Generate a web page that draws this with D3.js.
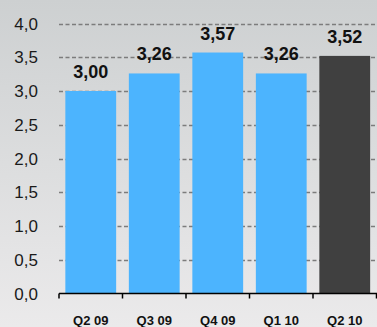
<!DOCTYPE html>
<html>
<head>
<meta charset="utf-8">
<script src="https://cdn.jsdelivr.net/npm/d3@7"></script>
<style>
  html, body { margin: 0; padding: 0; }
  svg { display: block; }
</style>
</head>
<body>
<svg id="chart" width="377" height="327"></svg>
<script>
// Quarterly values
const categories = ["Q2 09", "Q3 09", "Q4 09", "Q1 10", "Q2 10"];
const values = [3.00, 3.26, 3.57, 3.26, 3.52];
const yTicks = [0, 0.5, 1.0, 1.5, 2.0, 2.5, 3.0, 3.5, 4.0];

const W = 377, H = 327;
const margin = { left: 59, right: 0.5, top: 23.5, bottom: 33.5 };
const svg = d3.select("#chart");

// Background gradient
const defs = svg.append("defs");
const grad = defs.append("linearGradient").attr("id", "bg").attr("x1", 0).attr("y1", 0).attr("x2", 0).attr("y2", 1);
grad.append("stop").attr("offset", "0%").attr("stop-color", "#cdd0d1");
grad.append("stop").attr("offset", "100%").attr("stop-color", "#ebeaeb");
svg.append("rect").attr("width", W).attr("height", H).attr("fill", "url(#bg)");

const x = d3.scaleBand().domain(categories)
  .range([margin.left, W - margin.right]).paddingInner(0.2).paddingOuter(0.1);
const y = d3.scaleLinear().domain([0, 4]).range([H - margin.bottom, margin.top]);

const fmt = d => d3.format(".1f")(d).replace(".", ",");
const fmt2 = d => d3.format(".2f")(d).replace(".", ",");

// Dashed gridlines
svg.append("g").selectAll("line")
  .data(yTicks.filter(t => t > 0))
  .join("line")
  .attr("x1", margin.left).attr("x2", W)
  .attr("y1", d => Math.round(y(d)) + 0.5).attr("y2", d => Math.round(y(d)) + 0.5)
  .attr("stroke", "#7c7c7c").attr("stroke-width", 1.5)
  .attr("stroke-dasharray", "4,2.5");

// Y axis labels
svg.append("g").selectAll("text")
  .data(yTicks)
  .join("text")
  .attr("x", 38).attr("y", d => y(d))
  .attr("dy", "0.36em")
  .attr("text-anchor", "end")
  .attr("font-family", "Liberation Sans, Arial, sans-serif")
  .attr("font-size", 17)
  .attr("fill", "#1a1a1a")
  .text(fmt);

// Bars
svg.append("g").selectAll("rect")
  .data(values)
  .join("rect")
  .attr("x", (d, i) => x(categories[i]))
  .attr("width", x.bandwidth())
  .attr("y", d => y(d))
  .attr("height", d => y(0) - y(d))
  .attr("fill", (d, i) => i === values.length - 1 ? "#404040" : "#4cb4fe");

// Value labels
svg.append("g").selectAll("text")
  .data(values)
  .join("text")
  .attr("x", (d, i) => x(categories[i]) + x.bandwidth() / 2)
  .attr("y", d => y(d) - 13)
  .attr("text-anchor", "middle")
  .attr("font-family", "Liberation Sans, Arial, sans-serif")
  .attr("font-size", 18)
  .attr("font-weight", "bold")
  .attr("fill", "#111")
  .text(fmt2);

// X axis
const axisG = svg.append("g").attr("transform", `translate(0,${y(0)})`);
axisG.append("line")
  .attr("x1", margin.left).attr("x2", W)
  .attr("stroke", "#000").attr("stroke-width", 1.5);
const step = x.step();
const tickXs = d3.range(categories.length + 1).map(i => margin.left + i * step);
axisG.selectAll("line.tick")
  .data(tickXs)
  .join("line")
  .attr("class", "tick")
  .attr("x1", d => d).attr("x2", d => d)
  .attr("y1", 0).attr("y2", 5)
  .attr("stroke", "#000").attr("stroke-width", 1.5);

svg.append("g").selectAll("text")
  .data(categories)
  .join("text")
  .attr("x", d => x(d) + x.bandwidth() / 2)
  .attr("y", 325)
  .attr("text-anchor", "middle")
  .attr("font-family", "Liberation Sans, Arial, sans-serif")
  .attr("font-size", 13)
  .attr("font-weight", "bold")
  .attr("fill", "#111")
  .text(d => d);
</script>
</body>
</html>
